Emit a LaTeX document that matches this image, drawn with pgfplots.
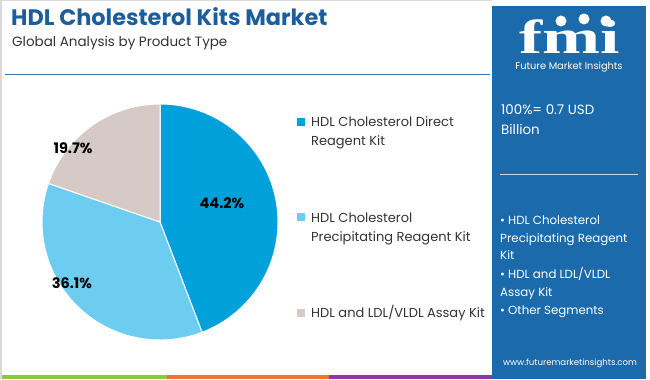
\documentclass[border=0pt]{standalone}
\usepackage{pgfplots}
\pgfplotsset{compat=1.18}
\usepackage{fontspec}
\setmainfont{Poppins}
\newfontfamily\logofont{Liberation Serif}
\definecolor{titleblue}{HTML}{1B5E9B}
\definecolor{panelblue}{HTML}{1B6AAB}
\definecolor{lineblue}{HTML}{2A7AB5}
\definecolor{cA}{HTML}{00A0DB}
\definecolor{cB}{HTML}{6DCDF1}
\definecolor{cC}{HTML}{D5CAC5}
\definecolor{txt}{HTML}{333333}
\definecolor{sgreen}{HTML}{8DC63F}
\definecolor{sorange}{HTML}{F0703A}
\definecolor{spurple}{HTML}{8E3A96}
\begin{document}
\begin{tikzpicture}[x=1pt,y=1pt]
% data (percent shares)
\def\pA{44.2}\def\pB{36.1}\def\pC{19.7}
\pgfmathsetmacro\aA{90-\pA*3.6}
\pgfmathsetmacro\aB{\aA-\pB*3.6}
\pgfmathsetmacro\aC{\aB-\pC*3.6}
\path (0,0) rectangle (650,379);
% frame
\draw[gray!30, line width=1.5pt] (0.75,0) -- (0.75,378.25) -- (492,378.25);
% title
\node[anchor=base west, font=\fontsize{22.4}{25}\selectfont\bfseries, text=titleblue, inner sep=0pt] at (11,379-25.5) {HDL Cholesterol Kits Market};
\node[anchor=base west, font=\fontsize{13.5}{16}\selectfont, text=txt, inner sep=0pt] at (12,379-47) {Global Analysis by Product Type};
\draw[lineblue, line width=1pt] (5,379-75) -- (490,379-75);
% pie
\begin{axis}[at={(160pt,157pt)}, anchor=origin, scale only axis, width=236pt, height=236pt,
  xmin=-1, xmax=1, ymin=-1, ymax=1, hide axis, clip=false]
\fill[cA, draw=white, line width=1pt] (axis cs:0,0) -- (axis cs:0,1) arc[start angle=90, end angle=\aA, radius=118pt] -- cycle;
\fill[cB, draw=white, line width=1pt] (axis cs:0,0) -- ({axis cs:{cos(\aA)},{sin(\aA)}}) arc[start angle=\aA, end angle=\aB, radius=118pt] -- cycle;
\fill[cC, draw=white, line width=1pt] (axis cs:0,0) -- ({axis cs:{cos(\aB)},{sin(\aB)}}) arc[start angle=\aB, end angle=\aC, radius=118pt] -- cycle;
\node[font=\fontsize{14.5}{16}\selectfont\bfseries] at (axis cs:0.525,0.161) {\pA\%};
\node[font=\fontsize{14.5}{16}\selectfont\bfseries] at (axis cs:-0.746,-0.517) {\pB\%};
\node[font=\fontsize{14.5}{16}\selectfont\bfseries] at (axis cs:-0.737,0.627) {\pC\%};
\end{axis}
% legend
\tikzset{leg/.style={anchor=base west, inner sep=0pt, text=txt, font=\fontsize{13}{15}\selectfont}}
\fill[cA] (297,379-126) rectangle (305,379-118);
\node[leg] at (311,379-126.7) {HDL Cholesterol Direct};
\node[leg] at (311,379-146) {Reagent Kit};
\fill[cB] (297,379-221) rectangle (305,379-213);
\node[leg] at (311,379-222.3) {HDL Cholesterol};
\node[leg] at (311,379-241.7) {Precipitating Reagent Kit};
\fill[cC] (297,379-317) rectangle (305,379-309);
\node[leg] at (311,379-317.3) {HDL and LDL/VLDL Assay Kit};
% bottom strip
\fill[sgreen] (2,0) rectangle (167,3.5);
\fill[sorange] (167,0) rectangle (329,3.5);
\fill[spurple] (329,0) rectangle (494,3.5);
% right panel
\fill[panelblue] (492,0) rectangle (646,379-6);
\node[anchor=base, text=white, font=\logofont\bfseries\fontsize{48}{48}\selectfont, inner sep=0pt, xscale=1.45] at (570,379-54) {fmi};
\fill[white] (561,379-21) circle (5.5);
\fill[white] (584,379-19) circle (5.5);
\fill[white] (606,379-21) circle (5.5);
\node[anchor=base, text=white, font=\fontsize{9.8}{11}\selectfont, inner sep=0pt] at (569,379-70) {Future Market Insights};
\tikzset{pan/.style={anchor=base west, text=white, inner sep=0pt, font=\fontsize{13.4}{15}\selectfont}}
\node[pan] at (501,379-115) {100\%= 0.7 USD};
\node[pan] at (501,379-135) {Billion};
\draw[white!75!panelblue, line width=1pt] (500,379-175) -- (638,379-175);
\tikzset{bul/.style={anchor=base west, text=white, inner sep=0pt, font=\fontsize{11.8}{14}\selectfont}}
\node[bul] at (500,379-225) {• HDL Cholesterol};
\node[bul] at (500,379-242.7) {Precipitating Reagent};
\node[bul] at (500,379-260) {Kit};
\node[bul] at (500,379-278.3) {• HDL and LDL/VLDL};
\node[bul] at (500,379-296.7) {Assay Kit};
\node[bul] at (500,379-314.3) {• Other Segments};
\node[anchor=base, text=white, inner sep=0pt, font=\fontsize{8.6}{10}\selectfont] at (570,379-366) {www.futuremarketinsights.com};
\end{tikzpicture}
\end{document}
